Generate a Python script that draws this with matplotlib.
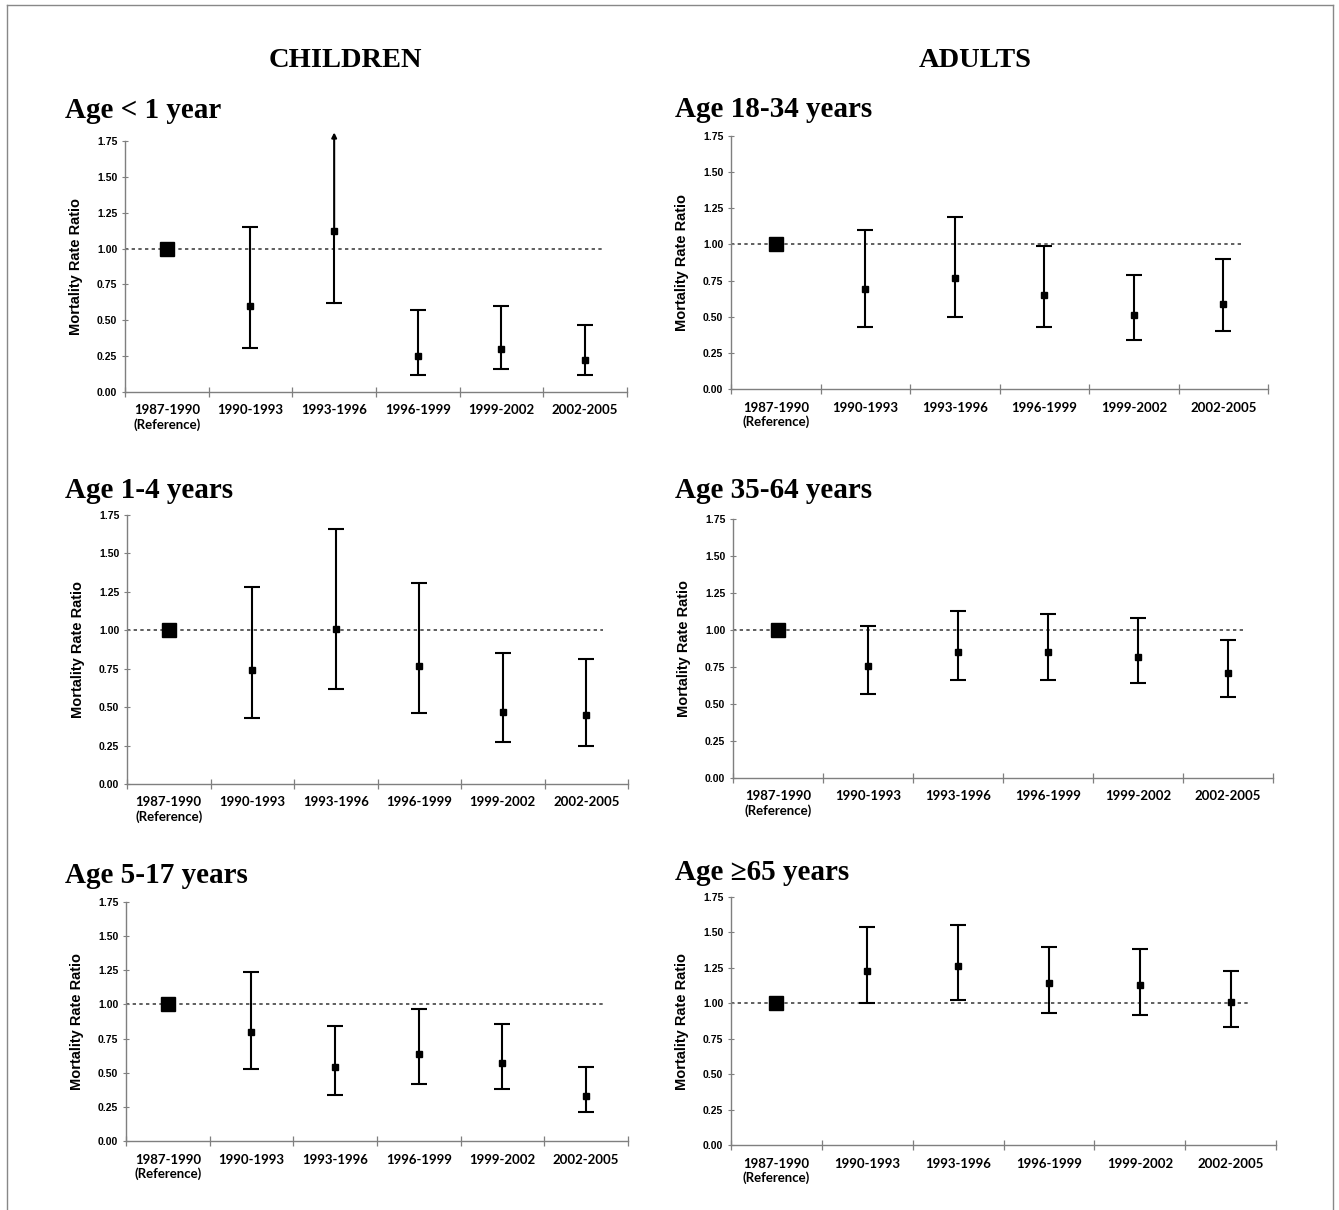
import matplotlib
matplotlib.use("Agg")
import matplotlib.pyplot as plt
from matplotlib.lines import Line2D
import numpy as np

W, H = 1339, 1210

periods = ["1987-1990\n(Reference)", "1990-1993", "1993-1996",
           "1996-1999", "1999-2002", "2002-2005"]

# rate ratios and 95% CI per age group (reference period = 1.00)
# None in hi = interval open above the axis (drawn as an arrow)
rr_lt1 = [1.00, 0.60, 1.12, 0.25, 0.30, 0.22]
lo_lt1 = [1.00, 0.31, 0.62, 0.12, 0.16, 0.12]
hi_lt1 = [1.00, 1.15, None, 0.57, 0.60, 0.47]

rr_1_4 = [1.00, 0.74, 1.01, 0.77, 0.47, 0.45]
lo_1_4 = [1.00, 0.43, 0.62, 0.46, 0.27, 0.25]
hi_1_4 = [1.00, 1.28, 1.66, 1.31, 0.85, 0.81]

rr_5_17 = [1.00, 0.80, 0.54, 0.64, 0.57, 0.33]
lo_5_17 = [1.00, 0.53, 0.34, 0.42, 0.38, 0.21]
hi_5_17 = [1.00, 1.24, 0.84, 0.97, 0.86, 0.54]

rr_18_34 = [1.00, 0.69, 0.77, 0.65, 0.51, 0.59]
lo_18_34 = [1.00, 0.43, 0.50, 0.43, 0.34, 0.40]
hi_18_34 = [1.00, 1.10, 1.19, 0.99, 0.79, 0.90]

rr_35_64 = [1.00, 0.76, 0.85, 0.85, 0.82, 0.71]
lo_35_64 = [1.00, 0.57, 0.66, 0.66, 0.64, 0.55]
hi_35_64 = [1.00, 1.03, 1.13, 1.11, 1.08, 0.93]

rr_65 = [1.00, 1.23, 1.26, 1.14, 1.13, 1.01]
lo_65 = [1.00, 1.00, 1.02, 0.93, 0.92, 0.83]
hi_65 = [1.00, 1.54, 1.55, 1.40, 1.38, 1.23]

yticks = [0, 0.25, 0.5, 0.75, 1.0, 1.25, 1.5, 1.75]

# (title, rr, lo, hi, axes box in pixels: left, right, top, bottom, title x, title baseline)
panels = [
    ("Age < 1 year", rr_lt1, lo_lt1, hi_lt1, (125, 627, 141, 392), (65, 118)),
    ("Age 1-4 years", rr_1_4, lo_1_4, hi_1_4, (127, 628, 515, 784), (65, 498)),
    ("Age 5-17 years", rr_5_17, lo_5_17, hi_5_17, (126, 628, 902, 1141), (65, 883)),
    ("Age 18-34 years", rr_18_34, lo_18_34, hi_18_34, (731, 1268, 136, 389), (675, 117)),
    ("Age 35-64 years", rr_35_64, lo_35_64, hi_35_64, (733, 1273, 519, 778), (675, 498)),
    ("Age \u226565 years", rr_65, lo_65, hi_65, (731, 1276, 897, 1145), (675, 880)),
]

serif = "Liberation Serif"
sans = "Liberation Sans"
cal = "Lato"
grey = "#7f7f7f"

fig = plt.figure(figsize=(W / 100, H / 100), dpi=100)

# thin frame round the figure
for xs, ys in [((7, 7), (5, H)), ((7, 1333), (5, 5)), ((1333, 1333), (5, H))]:
    fig.add_artist(Line2D([x / W for x in xs], [1 - y / H for y in ys],
                          color="#888888", lw=1.0))

fig.text(345 / W, 1 - 67 / H, "CHILDREN", family=serif, weight="bold",
         fontsize=20.5, ha="center", va="baseline")
fig.text(975 / W, 1 - 67 / H, "ADULTS", family=serif, weight="bold",
         fontsize=20.5, ha="center", va="baseline")

x = np.arange(len(periods))

for title, rr, lo, hi, (l, r, t, b), (tx, ty) in panels:
    ax = fig.add_axes([l / W, 1 - b / H, (r - l) / W, (b - t) / H])
    fig.text(tx / W, 1 - ty / H, title, family=serif, weight="bold",
             fontsize=21, ha="left", va="baseline")

    ax.set_xlim(-0.5, len(periods) - 0.5)
    ax.set_ylim(0, 1.75)

    ax.plot([-0.5, 5.2], [1, 1], color="#444444", lw=1.2,
            linestyle=(0, (2, 2)), zorder=1)

    # reference period
    ax.plot(x[0], rr[0], marker="s", ms=9.5, color="black",
            linestyle="none", zorder=3)

    for i in range(1, len(rr)):
        if hi[i] is None:
            # lower half with a cap, upper half runs off the scale as an arrow
            ax.plot([x[i], x[i]], [lo[i], rr[i]], color="black", lw=1.5, zorder=2)
            ax.plot(x[i], lo[i], marker="_", ms=11, mew=1.5, color="black", zorder=2)
            ax.plot(x[i], rr[i], marker="s", ms=5, color="black", zorder=3)
            ax.annotate("", xy=(x[i], 1.81), xytext=(x[i], rr[i]),
                        arrowprops=dict(arrowstyle="-|>", color="black", lw=1.5,
                                        mutation_scale=7, shrinkA=0, shrinkB=0),
                        annotation_clip=False)
        else:
            ax.errorbar(x[i], rr[i], yerr=[[rr[i] - lo[i]], [hi[i] - rr[i]]],
                        fmt="s", ms=5, color="black", ecolor="black",
                        elinewidth=1.5, capsize=5.5, capthick=1.5, zorder=3)

    for s in ["top", "right"]:
        ax.spines[s].set_visible(False)
    for s in ["left", "bottom"]:
        ax.spines[s].set_color(grey)
        ax.spines[s].set_linewidth(1.0)

    ax.set_yticks(yticks)
    ax.set_yticklabels(["%.2f" % v for v in yticks], family=sans,
                       weight="bold", fontsize=7.5)
    ax.tick_params(axis="y", direction="inout", length=5, width=0.8,
                   color=grey, pad=3)

    ax.set_xticks(x)
    ax.set_xticklabels(periods, family=cal, weight="bold", fontsize=9.5,
                       linespacing=1.15)
    ax.set_xticks(np.arange(-0.5, len(periods)), minor=True)
    ax.tick_params(axis="x", which="major", length=0, pad=9)
    ax.tick_params(axis="x", which="minor", direction="inout", length=7,
                   width=0.9, color=grey)

    ax.set_ylabel("Mortality Rate Ratio", family=sans, weight="bold",
                  fontsize=10.5)
    ax.yaxis.set_label_coords(-42 / (r - l), 0.5)

fig.savefig("out.png", dpi=100)
